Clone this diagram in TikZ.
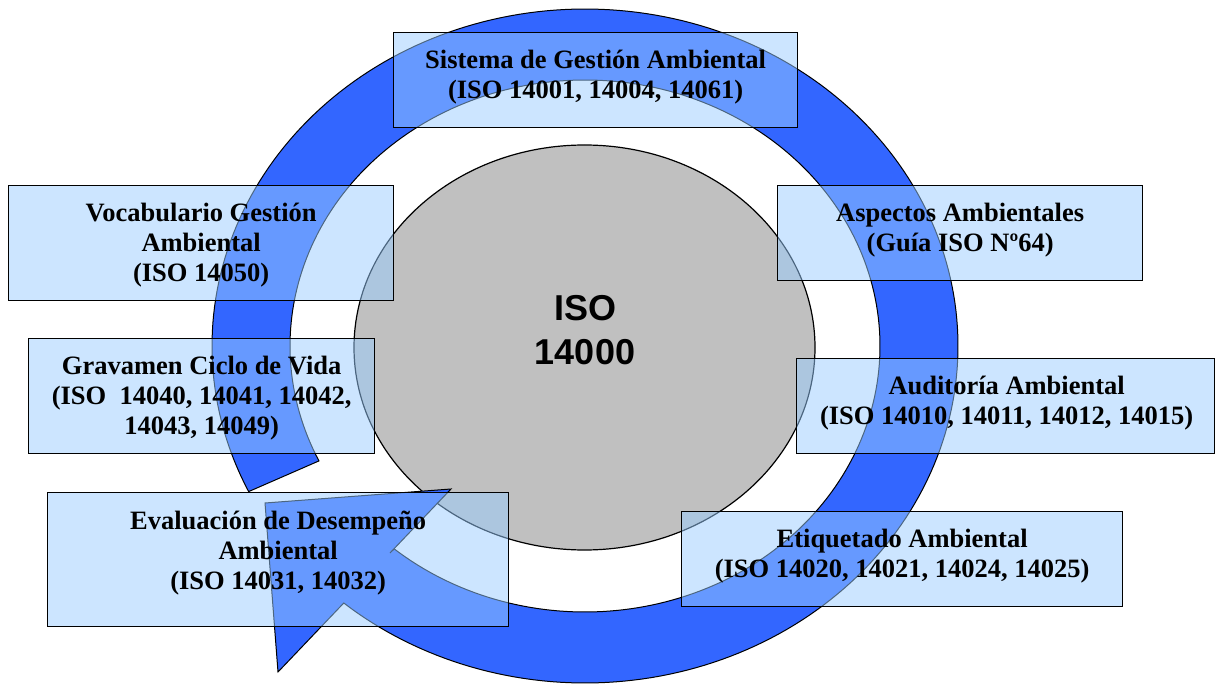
\documentclass[tikz,border=0pt]{standalone}
\usepackage{fontspec}
\setmainfont{Liberation Serif}
\newfontfamily\coresans{Liberation Sans}
\usetikzlibrary{calc,shapes.geometric}
\definecolor{ringblue}{RGB}{51,102,255}
\definecolor{panelblue}{RGB}{153,204,255}
\definecolor{coregray}{RGB}{192,192,192}
\begin{document}
\begin{tikzpicture}[x=1pt,y=-1pt,
  panel/.style={rectangle, draw=black, line width=1.3pt, fill=panelblue,
    fill opacity=0.5, inner sep=0pt, anchor=north west},
  paneltext/.style={anchor=north, inner sep=0pt, align=center,
    font=\fontsize{26.5}{30}\selectfont\bfseries},
  ringline/.style={draw=black, line width=1pt, fill=ringblue, line join=miter}]
\useasboundingbox (0,0) rectangle (1215,684);

% central ellipse
\node[ellipse, draw=black, line width=1.2pt, fill=coregray,
  minimum width=461pt, minimum height=405pt, inner sep=0pt] (core) at (584.5,347.5) {};
\node[inner sep=0pt, align=center, font=\fontsize{36}{44}\selectfont\coresans\bfseries]
  (coreLabel) at (585,330) {ISO\\14000};

% circular arrow around the centre
\draw[ringline]
  plot[domain=154.4:490.3, samples=240] ({585+373*cos(\x)},{346+337*sin(\x)})
  -- (339,608) -- (278,672) -- (265,503) -- (451,489) -- (390,553)
  -- plot[domain=490.3:154.4, samples=240] ({585+295*cos(\x)},{346+266*sin(\x)})
  -- cycle;

% standards boxes
\node[panel, minimum width=404pt, minimum height=95pt] (sga) at (393,32) {};
\node[paneltext] (sgaText) at ($(sga.north)+(0,15)$)
  {\strut Sistema de Gestión Ambiental\\(ISO 14001, 14004, 14061)};

\node[panel, minimum width=385pt, minimum height=115pt] (voc) at (8,185) {};
\node[paneltext] (vocText) at ($(voc.north)+(0,15)$)
  {\strut Vocabulario Gestión\\Ambiental\\(ISO 14050)};

\node[panel, minimum width=346pt, minimum height=115pt] (acv) at (28,338) {};
\node[paneltext] (acvText) at ($(acv.north)+(0,15)$)
  {\strut Gravamen Ciclo de Vida\\(ISO~ 14040, 14041, 14042,\\14043, 14049)};

\node[panel, minimum width=461pt, minimum height=134pt] (eda) at (47,492) {};
\node[paneltext] (edaText) at ($(eda.north)+(0,16)$)
  {\strut Evaluación de Desempeño\\Ambiental\\(ISO 14031, 14032)};

\node[panel, minimum width=365pt, minimum height=95pt] (asp) at (777,185) {};
\node[paneltext] (aspText) at ($(asp.north)+(0,15)$)
  {\strut Aspectos Ambientales\\(Guía ISO Nº64)};

\node[panel, minimum width=418pt, minimum height=95pt] (aud) at (796,358) {};
\node[paneltext] (audText) at ($(aud.north)+(1,15)$)
  {\strut Auditoría Ambiental\\(ISO 14010, 14011, 14012, 14015)};

\node[panel, minimum width=441pt, minimum height=95pt] (eti) at (681,511) {};
\node[paneltext] (etiText) at ($(eti.north)+(0,15)$)
  {\strut Etiquetado Ambiental\\(ISO 14020, 14021, 14024, 14025)};
\end{tikzpicture}
\end{document}
